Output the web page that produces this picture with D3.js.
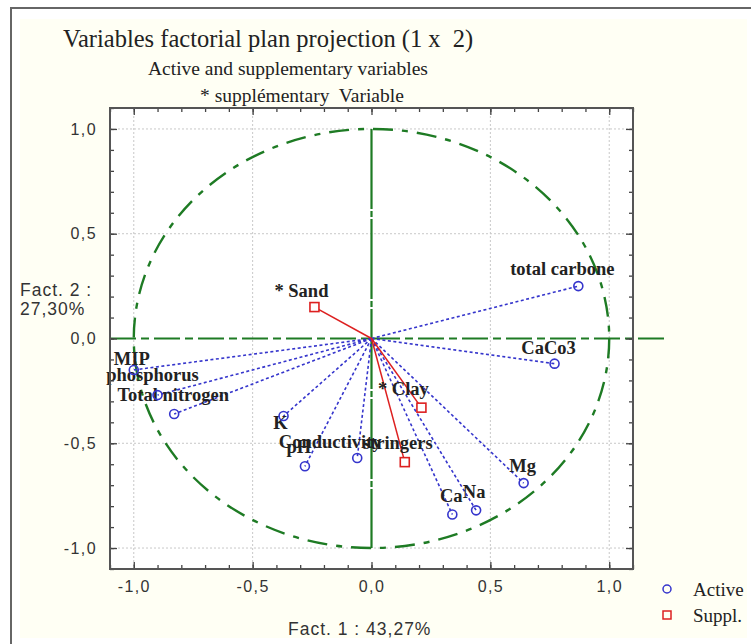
<!DOCTYPE html>
<html>
<head>
<meta charset="utf-8">
<script src="https://cdn.jsdelivr.net/npm/d3@7"></script>
<style>
  body { margin: 0; background: #fff; }
  svg { display: block; }
</style>
</head>
<body>
<svg id="chart" width="751" height="644"></svg>
<script>
// Active variables (blue circles)
const activeNames = ["total carbone", "CaCo3", "MIP", "phosphorus", "Total nitrogen", "K", "pH", "Conductivity", "Ca", "Na", "Mg"];
const activeF1 = [0.87, 0.77, -1.0, -0.90, -0.83, -0.37, -0.28, -0.06, 0.34, 0.44, 0.64];
const activeF2 = [0.25, -0.12, -0.15, -0.27, -0.36, -0.37, -0.61, -0.57, -0.84, -0.82, -0.69];

// Supplementary variables (red squares)
const supplNames = ["* Sand", "* Clay", "stringers"];
const supplF1 = [-0.24, 0.21, 0.14];
const supplF2 = [0.15, -0.33, -0.59];

const majorTicks = [-1, -0.5, 0, 0.5, 1];
const minorTicks = [-1.1, -1, -0.9, -0.8, -0.7, -0.6, -0.5, -0.4, -0.3, -0.2, -0.1, 0, 0.1, 0.2, 0.3, 0.4, 0.5, 0.6, 0.7, 0.8, 0.9, 1, 1.1];

// label nudges (pixels) so the labels sit like in the original
const labelOffset = {
  "total carbone": [-16, -11], "CaCo3": [-6, -10], "MIP": [-2, -5], "phosphorus": [-5, -14],
  "Total nitrogen": [-1, -13], "K": [-3, 13], "pH": [-6, -13], "Conductivity": [-27, -10],
  "Ca": [-1, -13], "Na": [-2, -12], "Mg": [-1, -11],
  "* Sand": [-13, -10], "* Clay": [-18, -13], "stringers": [-7, -13]
};

const green = "#1e7b24", blue = "#3535cc", red = "#dd2020";
const fmt = (v) => v.toFixed(1).replace(".", ",");

const svg = d3.select("#chart");

// outer frame and cream background
svg.append("rect").attr("x", 20).attr("y", 19).attr("width", 727).attr("height", 619).attr("fill", "#fffff4");
svg.append("path").attr("d", "M11,644V8H751").attr("fill", "none").attr("stroke", "#666").attr("stroke-width", 2);

const x = d3.scaleLinear().domain([-1.1, 1.1]).range([110, 633]);
const y = d3.scaleLinear().domain([-1.1, 1.1]).range([569, 108]);

// plot area
svg.append("rect")
  .attr("x", x(-1.1)).attr("y", y(1.1))
  .attr("width", x(1.1) - x(-1.1)).attr("height", y(-1.1) - y(1.1))
  .attr("fill", "#fff");

// dotted grid
const grid = svg.append("g").attr("stroke", "#c8c8c8").attr("stroke-dasharray", "2,2").attr("stroke-width", 1);
majorTicks.filter((t) => t !== 0).forEach((t) => {
  grid.append("line").attr("x1", x(t)).attr("x2", x(t)).attr("y1", y(1.1)).attr("y2", y(-1.1));
  grid.append("line").attr("y1", y(t)).attr("y2", y(t)).attr("x1", x(-1.1)).attr("x2", x(1.1));
});

// green reference lines and unit circle
svg.append("line")
  .attr("x1", x(-1.1)).attr("x2", x(1.25)).attr("y1", y(0)).attr("y2", y(0))
  .attr("stroke", green).attr("stroke-width", 2.2).attr("stroke-dasharray", "26,5,8,5");
svg.append("line")
  .attr("x1", x(0)).attr("x2", x(0)).attr("y1", y(1)).attr("y2", y(-1))
  .attr("stroke", green).attr("stroke-width", 2.2).attr("stroke-dasharray", "80,2,6,2");
svg.append("ellipse")
  .attr("cx", x(0)).attr("cy", y(0))
  .attr("rx", x(1) - x(0)).attr("ry", y(0) - y(1))
  .attr("fill", "none").attr("stroke", green).attr("stroke-width", 2.4)
  .attr("stroke-dasharray", "20,9,6,9");

// vectors
const active = activeNames.map((n, i) => ({ name: n, f1: activeF1[i], f2: activeF2[i] }));
const suppl = supplNames.map((n, i) => ({ name: n, f1: supplF1[i], f2: supplF2[i] }));

svg.append("g").selectAll("line").data(active).enter().append("line")
  .attr("x1", x(0)).attr("y1", y(0))
  .attr("x2", (d) => x(d.f1)).attr("y2", (d) => y(d.f2))
  .attr("stroke", blue).attr("stroke-width", 1.6).attr("stroke-dasharray", "3,2.5");

svg.append("g").selectAll("line").data(suppl).enter().append("line")
  .attr("x1", x(0)).attr("y1", y(0))
  .attr("x2", (d) => x(d.f1)).attr("y2", (d) => y(d.f2))
  .attr("stroke", red).attr("stroke-width", 1.5);

// labels
const labels = svg.append("g")
  .attr("font-family", "'Liberation Serif', 'Times New Roman', serif")
  .attr("font-weight", "bold").attr("font-size", 18.5).attr("fill", "#222")
  .attr("text-anchor", "middle");
active.concat(suppl).forEach((d) => {
  const off = labelOffset[d.name] || [0, -11];
  labels.append("text")
    .attr("x", x(d.f1) + off[0]).attr("y", y(d.f2) + off[1])
    .text(d.name);
});

// markers
svg.append("g").selectAll("circle").data(active).enter().append("circle")
  .attr("cx", (d) => x(d.f1)).attr("cy", (d) => y(d.f2)).attr("r", 4.5)
  .attr("fill", "none").attr("stroke", blue).attr("stroke-width", 1.6);

svg.append("g").selectAll("rect").data(suppl).enter().append("rect")
  .attr("x", (d) => x(d.f1) - 4.5).attr("y", (d) => y(d.f2) - 4.5)
  .attr("width", 9).attr("height", 9)
  .attr("fill", "#fff").attr("stroke", red).attr("stroke-width", 1.6);

// frame and ticks
const h = y(-1.1) - y(1.1), w = x(1.1) - x(-1.1);
function ticks(g) {
  g.selectAll(".domain").remove();
  g.selectAll("line").attr("stroke", "#444").attr("stroke-width", 1.3);
}
svg.append("g").attr("transform", `translate(0,${y(-1.1)})`)
  .call(d3.axisBottom(x).tickValues(minorTicks).tickSize(-4).tickFormat("")).call(ticks);
svg.append("g").attr("transform", `translate(0,${y(1.1)})`)
  .call(d3.axisTop(x).tickValues(minorTicks).tickSize(-4).tickFormat("")).call(ticks);
svg.append("g").attr("transform", `translate(${x(-1.1)},0)`)
  .call(d3.axisLeft(y).tickValues(minorTicks).tickSize(-4).tickFormat("")).call(ticks);
svg.append("g").attr("transform", `translate(${x(1.1)},0)`)
  .call(d3.axisRight(y).tickValues(minorTicks).tickSize(-4).tickFormat("")).call(ticks);

const sans = "'Liberation Sans', Arial, sans-serif";
const tickFont = (g) => g.selectAll("text")
  .attr("font-family", sans).attr("font-size", 16).attr("letter-spacing", 1.4).attr("fill", "#333");

svg.append("g").attr("transform", `translate(0,${y(-1.1)})`)
  .call(d3.axisBottom(x).tickValues(majorTicks).tickSize(-7).tickPadding(12).tickFormat(fmt))
  .call(ticks).call(tickFont);
svg.append("g").attr("transform", `translate(${x(-1.1)},0)`)
  .call(d3.axisLeft(y).tickValues(majorTicks).tickSize(-7).tickPadding(13).tickFormat(fmt))
  .call(ticks).call(tickFont);
svg.append("g").attr("transform", `translate(0,${y(1.1)})`)
  .call(d3.axisTop(x).tickValues(majorTicks).tickSize(-7).tickFormat("")).call(ticks);
svg.append("g").attr("transform", `translate(${x(1.1)},0)`)
  .call(d3.axisRight(y).tickValues(majorTicks).tickSize(-7).tickFormat("")).call(ticks);

svg.append("rect")
  .attr("x", x(-1.1)).attr("y", y(1.1)).attr("width", w).attr("height", h)
  .attr("fill", "none").attr("stroke", "#555").attr("stroke-width", 2);

// titles
const serif = "'Liberation Serif', 'Times New Roman', serif";
svg.append("text").attr("x", 63).attr("y", 47)
  .attr("font-family", serif).attr("font-size", 24.5).attr("fill", "#222")
  .attr("xml:space", "preserve")
  .text("Variables factorial plan projection (1 x  2)");
svg.append("text").attr("x", 148).attr("y", 75)
  .attr("font-family", serif).attr("font-size", 19.5).attr("fill", "#222")
  .text("Active and supplementary variables");
svg.append("text").attr("x", 200).attr("y", 102)
  .attr("font-family", serif).attr("font-size", 19.5).attr("fill", "#222")
  .attr("xml:space", "preserve")
  .text("* supplémentary  Variable");

// axis titles
const axisTitle = (t, px, py) => svg.append("text").attr("x", px).attr("y", py)
  .attr("font-family", sans).attr("font-size", 17.5).attr("letter-spacing", 1)
  .attr("fill", "#333").attr("xml:space", "preserve").text(t);
axisTitle("Fact. 2 :", 20, 296);
axisTitle("27,30%", 20, 315);
axisTitle("Fact. 1 : 43,27%", 288, 635);

// legend
const legend = svg.append("g").attr("font-family", serif).attr("font-size", 19).attr("fill", "#222");
legend.append("circle").attr("cx", 667).attr("cy", 589).attr("r", 4)
  .attr("fill", "none").attr("stroke", blue).attr("stroke-width", 1.5);
legend.append("text").attr("x", 693).attr("y", 596).text("Active");
legend.append("rect").attr("x", 663).attr("y", 611).attr("width", 8).attr("height", 8)
  .attr("fill", "none").attr("stroke", red).attr("stroke-width", 1.5);
legend.append("text").attr("x", 693).attr("y", 622).text("Suppl.");
</script>
</body>
</html>
